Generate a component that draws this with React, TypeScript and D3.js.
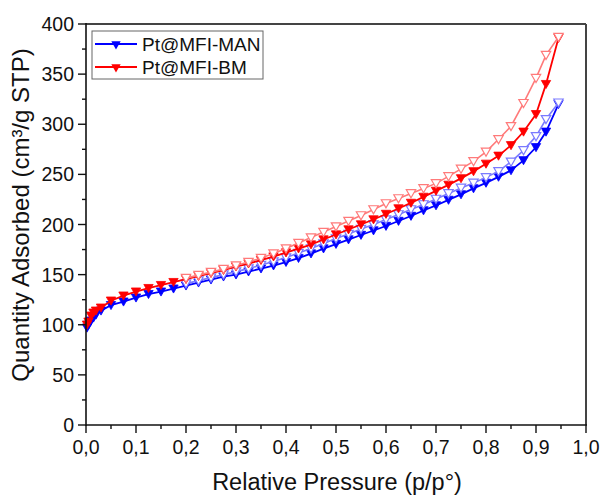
import React from "react";
import * as d3 from "d3";

const adsP = [0.002, 0.005, 0.01, 0.015, 0.02, 0.03, 0.05, 0.075, 0.1, 0.125, 0.15, 0.175, 0.2, 0.225, 0.25, 0.275, 0.3, 0.325, 0.35, 0.375, 0.4, 0.425, 0.45, 0.475, 0.5, 0.525, 0.55, 0.575, 0.6, 0.625, 0.65, 0.675, 0.7, 0.725, 0.75, 0.775, 0.8, 0.825, 0.85, 0.875, 0.9, 0.92, 0.945];
const desP = [0.945, 0.92, 0.9, 0.875, 0.85, 0.825, 0.8, 0.775, 0.75, 0.725, 0.7, 0.675, 0.65, 0.625, 0.6, 0.575, 0.55, 0.525, 0.5, 0.475, 0.45, 0.425, 0.4, 0.375, 0.35, 0.325, 0.3, 0.275, 0.25, 0.225, 0.2];

const manAds = [97, 100, 104, 107, 110, 114, 119.5, 123, 127, 130.5, 133, 136, 139, 142, 145, 148, 150, 153, 156, 159, 162.5, 166.5, 171, 176, 180.5, 185, 189.5, 194, 198.5, 203.5, 208.5, 214, 219, 224.5, 230, 236, 241.5, 247.5, 254, 264, 277, 292.5, 320];
const manDes = [321.5, 305, 288, 274, 262.5, 253, 247, 241.5, 236.5, 231, 225.5, 220, 215, 210, 205, 200, 195.5, 190.5, 186, 181, 176, 171.5, 167, 163, 159.5, 156, 153, 150, 147, 144, 141];
const bmAds = [100, 103, 109, 112, 114, 117, 124, 129, 133, 136.5, 139.5, 142.5, 145.5, 148.5, 151.5, 154.5, 158, 161, 164.5, 168, 172, 176, 180, 185, 190, 195, 200, 205, 210.5, 216, 221.5, 227.5, 233.5, 239.5, 246, 253, 260.5, 268.5, 279, 292.5, 310, 340, 386];
const bmDes = [387, 369, 346, 321, 298, 285, 272.5, 263, 255.5, 248, 241, 236, 231, 226, 221, 215, 209, 203.5, 198, 192.5, 187, 181.5, 176, 171, 166.5, 162.5, 159, 155.5, 152.5, 149.5, 146.5];

const seriesNames = ["Pt@MFI-MAN", "Pt@MFI-BM"];
const seriesColors = ["#0000ff", "#ff0000"];
const desColors = ["#7a7aff", "#ff7a7a"];

const xTicks = [0, 0.1, 0.2, 0.3, 0.4, 0.5, 0.6, 0.7, 0.8, 0.9, 1.0];
const yTicks = [0, 50, 100, 150, 200, 250, 300, 350, 400];

const W = 602, H = 497;
const left = 86, right = 586, top = 24, bottom = 425;
const font = "'Liberation Sans', Arial, sans-serif";

export default function App() {
  const x = d3.scaleLinear().domain([0, 1]).range([left, right]);
  const y = d3.scaleLinear().domain([0, 400]).range([bottom, top]);
  const line = d3.line<[number, number]>().x(d => x(d[0])).y(d => y(d[1]));
  const tri = d3.symbol().type(d3.symbolTriangle).size(38)()!;

  const series = [
    { ads: manAds, des: manDes, color: seriesColors[0], dcolor: desColors[0] },
    { ads: bmAds, des: bmDes, color: seriesColors[1], dcolor: desColors[1] },
  ];

  const xMinor = d3.range(0, 1.0001, 0.05);
  const yMinor = d3.range(0, 400.1, 25);
  const fmt = (v: number) => v.toFixed(1).replace(".", ",");

  return (
    <svg width={W} height={H} style={{ position: "absolute", left: 0, top: 0, background: "#fff" }} fontFamily={font}>
      <rect width={W} height={H} fill="#fff" />
      {series.map((s, i) => {
        const ad = adsP.map((p, k) => [p, s.ads[k]] as [number, number]);
        const de = desP.map((p, k) => [p, s.des[k]] as [number, number]);
        return (
          <g key={i}>
            <path d={line(ad)!} fill="none" stroke={s.color} strokeWidth={1.8} />
            {ad.map((d, k) => (
              <path key={k} d={tri} transform={`translate(${x(d[0])},${y(d[1]) - 1}) rotate(180)`} fill={s.color} stroke={s.color} strokeWidth={0.8} />
            ))}
            <path d={line(de)!} fill="none" stroke={s.dcolor} strokeWidth={1.6} />
            {de.map((d, k) => (
              <path key={k} d={tri} transform={`translate(${x(d[0])},${y(d[1]) - 1}) rotate(180)`} fill="#fff" stroke={s.dcolor} strokeWidth={1.2} />
            ))}
          </g>
        );
      })}

      {/* frame */}
      <line x1={left} x2={right} y1={top} y2={top} stroke="#444" strokeWidth={2} />
      <line x1={right} x2={right} y1={top} y2={bottom} stroke="#444" strokeWidth={2} />
      <line x1={left} x2={right + 1} y1={bottom} y2={bottom} stroke="#111" strokeWidth={1.6} />
      <line x1={left} x2={left} y1={top - 1} y2={bottom + 1} stroke="#111" strokeWidth={1.6} />

      {xMinor.map((v, i) => (
        <line key={"xm" + i} x1={x(v)} x2={x(v)} y1={bottom} y2={bottom + (i % 2 === 0 ? 8 : 4)} stroke="#111" strokeWidth={1.4} />
      ))}
      {yMinor.map((v, i) => (
        <line key={"ym" + i} x1={left} x2={left - (i % 2 === 0 ? 8 : 4)} y1={y(v)} y2={y(v)} stroke="#111" strokeWidth={1.4} />
      ))}
      {xTicks.map((v, i) => (
        <text key={"xt" + i} x={x(v)} y={bottom + 29} textAnchor="middle" fontSize={19.5} fill="#111">{fmt(v)}</text>
      ))}
      {yTicks.map((v, i) => (
        <text key={"yt" + i} x={left - 12} y={y(v) + 7} textAnchor="end" fontSize={19.5} fill="#111">{v}</text>
      ))}
      <text x={337} y={490} textAnchor="middle" fontSize={23.5} fill="#111">Relative Pressure (p/p°)</text>
      <text transform={`translate(29,${215}) rotate(-90)`} textAnchor="middle" fontSize={24} fill="#111">Quantity Adsorbed (cm³/g STP)</text>

      {/* legend */}
      <rect x={92} y={31} width={171} height={48} fill="#fff" stroke="#666" strokeWidth={1} />
      {seriesNames.map((n, i) => {
        const ly = 44 + i * 23;
        return (
          <g key={n}>
            <line x1={95} x2={137} y1={ly} y2={ly} stroke={seriesColors[i]} strokeWidth={1.8} />
            <path d={tri} transform={`translate(116,${ly}) rotate(180)`} fill={seriesColors[i]} />
            <text x={142} y={ly + 7} fontSize={19} fill="#111">{n}</text>
          </g>
        );
      })}
    </svg>
  );
}
